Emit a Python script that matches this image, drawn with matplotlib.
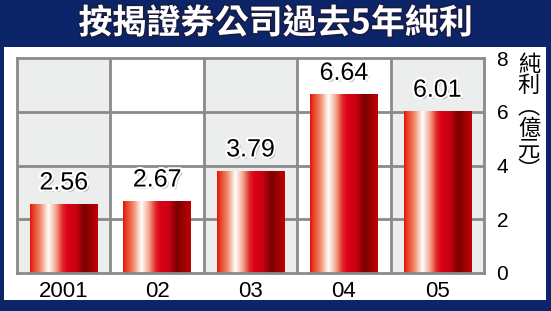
import numpy as np
import matplotlib.pyplot as plt
import matplotlib.patheffects as pe
from matplotlib.colors import LinearSegmentedColormap
from matplotlib.patches import Rectangle

plt.rcParams['font.family'] = ['Liberation Sans', 'Noto Sans CJK TC', 'DejaVu Sans']

# Data
years = ['2001', '02', '03', '04', '05']
profits = [2.56, 2.67, 3.79, 6.64, 6.01]
yticks = [0, 2, 4, 6, 8]

W, H = 551, 311
fig = plt.figure(figsize=(W / 100, H / 100), dpi=100)
fig.patch.set_facecolor('#0b2568')

# white inner panel
fig.add_artist(Rectangle((4 / W, (H - 300) / H), 542 / W, 253 / H,
                         transform=fig.transFigure, facecolor='white',
                         edgecolor='none', zorder=0))

# title
fig.text(0.5, (H - 23) / H, '按揭證券公司過去5年純利', color='white',
         fontsize=24.5, fontweight='heavy', family=['Noto Sans CJK TC'],
         ha='center', va='center',
         path_effects=[pe.withStroke(linewidth=2, foreground='#1a1a40')])

ax = fig.add_axes([17 / W, (H - 273) / H, 467 / W, 215 / H])
ax.set_xlim(-0.5, len(years) - 0.5)
ax.set_ylim(0, 8)

# alternating column shading
for i in range(len(years)):
    if i % 2 == 0:
        ax.axvspan(i - 0.5, i + 0.5, color='#eceeee', zorder=0)

# grid
for y in yticks[1:-1]:
    ax.axhline(y, color='#8a8a8a', lw=2, zorder=1)
for i in range(1, len(years)):
    ax.axvline(i - 0.5, color='#8a8a8a', lw=2, zorder=1)

# bar gradient
grad = LinearSegmentedColormap.from_list('bar', [
    (0.0, '#d81808'), (0.04, '#e83820'), (0.15, '#f08868'),
    (0.27, '#ffffff'), (0.38, '#f4a890'), (0.48, '#e02828'),
    (0.55, '#dc0018'), (0.68, '#c80012'), (0.8, '#7a0000'),
    (0.9, '#a00000'), (1.0, '#c00008')])
g = np.linspace(0, 1, 256).reshape(1, -1)
bw = 0.72
for i, v in enumerate(profits):
    ax.imshow(g, cmap=grad, extent=[i - bw / 2, i + bw / 2, 0, v],
              aspect='auto', zorder=2, interpolation='bilinear')
    ax.annotate(f'{v:.2f}', (i, v), xytext=(0, 7), textcoords='offset points',
                ha='center', va='bottom', fontsize=18, color='black', zorder=4,
                path_effects=[pe.withSimplePatchShadow(offset=(1.5, -1.5), shadow_rgbFace='#555555', alpha=0.5),
                              pe.withStroke(linewidth=3, foreground='white')])
ax.set_xlim(-0.5, len(years) - 0.5)
ax.set_ylim(0, 8)

for s in ax.spines.values():
    s.set_color('#8a8a8a')
    s.set_linewidth(2)

ax.set_xticks(range(len(years)))
ax.set_xticklabels(years, fontsize=16)
ax.yaxis.tick_right()
ax.set_yticks(yticks)
ax.set_yticklabels([str(t) for t in yticks], fontsize=15)
ax.tick_params(length=0, pad=6)
ax.tick_params(axis='y', pad=9)

fig.text(529 / W, (H - 53) / H, '純\n利\n︵\n億\n元\n︶', fontsize=16,
         family=['Noto Sans CJK TC'], ha='center', va='top', linespacing=0.9)

fig.savefig('out.png', dpi=100, facecolor=fig.get_facecolor())
